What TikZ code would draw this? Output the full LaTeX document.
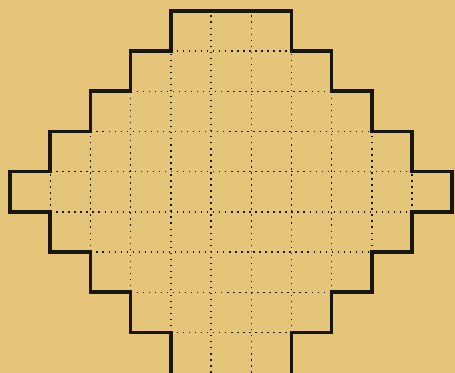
\documentclass[tikz,border=0pt]{standalone}
\usepackage{tikz}

\definecolor{paper}{RGB}{229,197,122}
\definecolor{ink}{RGB}{25,22,18}

\tikzset{
  outline/.style={ink,line width=0.9mm,line join=miter},
  gridline/.style={ink,line width=0.35mm,dash pattern=on 0.35mm off 1.15mm}
}

\begin{document}
\begin{tikzpicture}

\fill[paper] (-0.25,0) rectangle (11.07,9.27);
\useasboundingbox (-0.25,0) rectangle (11.07,9.27);

% dotted grid, horizontal
\foreach \y/\a/\b in {1/4/7,2/3/8,3/2/9,4/1/10,5/1/10,6/2/9,7/3/8,8/4/7}
  \draw[gridline] (\a,\y) -- (\b,\y);

% dotted grid, vertical
\foreach \x/\a/\b in {1/4/5,2/3/6,3/2/7,4/1/8,5/0/9,6/0/9,7/1/8,8/2/7,9/3/6,10/4/5}
  \draw[gridline] (\x,\a) -- (\x,\b);

% stepped outline
\draw[outline] (4,0) -- (4,1) -- (3,1) -- (3,2) -- (2,2) -- (2,3) -- (1,3)
  -- (1,4) -- (0,4) -- (0,5) -- (1,5) -- (1,6) -- (2,6) -- (2,7) -- (3,7)
  -- (3,8) -- (4,8) -- (4,9) -- (7,9) -- (7,8) -- (8,8) -- (8,7) -- (9,7)
  -- (9,6) -- (10,6) -- (10,5) -- (11,5) -- (11,4) -- (10,4) -- (10,3)
  -- (9,3) -- (9,2) -- (8,2) -- (8,1) -- (7,1) -- (7,0);

\end{tikzpicture}
\end{document}
